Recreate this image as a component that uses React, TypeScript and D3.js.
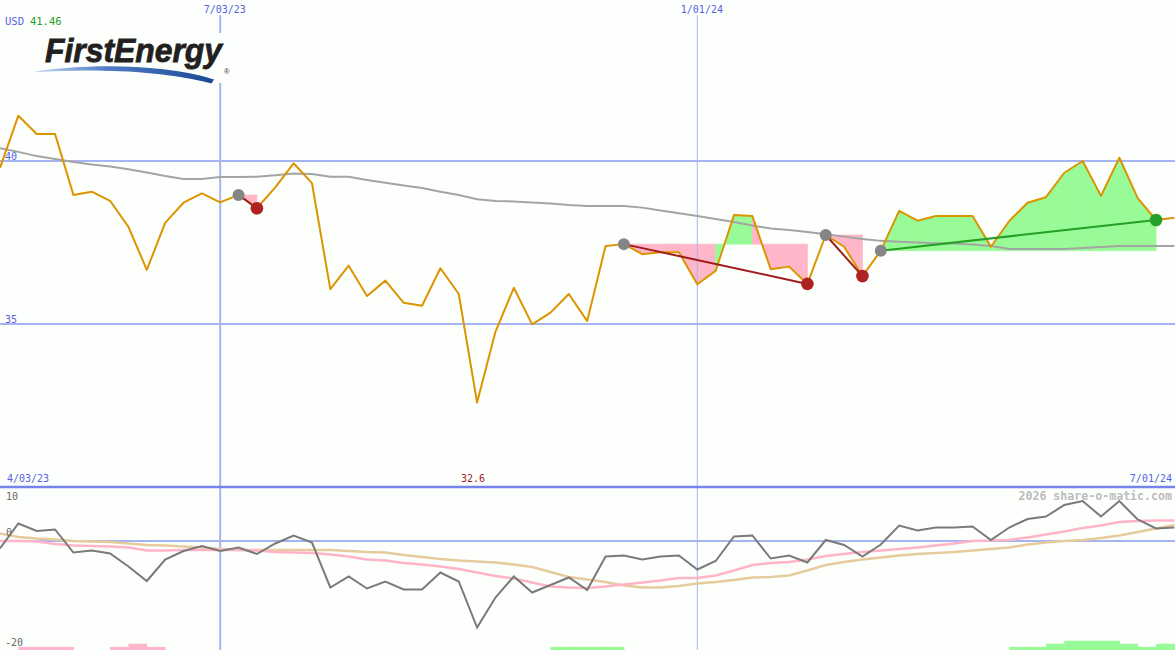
import React from 'react';
import * as d3 from 'd3';

const W = 1175;
const H = 650;

// weekly closes starting week of 2023-04-10
const startDate = new Date(2023, 3, 10);
const price = [39.79, 41.39, 40.83, 40.83, 38.96, 39.06, 38.78, 37.98, 36.66, 38.10,
  38.72, 39.01, 38.73, 38.96, 38.55, 39.19, 39.93, 39.32, 36.07, 36.79,
  35.86, 36.33, 35.65, 35.56, 36.71, 35.92, 32.59, 34.76, 36.11, 34.99,
  35.35, 35.92, 35.09, 37.39, 37.45, 37.14, 37.20, 37.20, 36.22, 36.63,
  38.34, 38.31, 36.68, 36.76, 36.23, 37.73, 37.37, 36.47, 37.25, 38.47,
  38.17, 38.31, 38.31, 38.31, 37.37, 38.16, 38.72, 38.89, 39.64, 40.00,
  38.93, 40.10, 38.86, 38.19, 38.26];
const priceMA = [40.39, 40.28, 40.15, 40.06, 39.97, 39.89, 39.83, 39.75, 39.65, 39.54,
  39.45, 39.45, 39.51, 39.51, 39.52, 39.56, 39.62, 39.60, 39.52, 39.52,
  39.42, 39.33, 39.25, 39.17, 39.06, 38.96, 38.83, 38.77, 38.76, 38.73,
  38.70, 38.65, 38.62, 38.62, 38.62, 38.57, 38.48, 38.40, 38.31, 38.22,
  38.13, 38.02, 37.93, 37.88, 37.82, 37.75, 37.68, 37.61, 37.55, 37.52,
  37.50, 37.48, 37.47, 37.44, 37.39, 37.30, 37.30, 37.30, 37.30, 37.33,
  37.36, 37.39, 37.39, 37.39, 37.39];
const osc = [-1.5, 3.5, 2.0, 2.3, -2.3, -1.9, -2.5, -5.1, -8.0, -3.7,
  -2.0, -1.0, -2.0, -1.3, -2.6, -0.5, 1.1, -0.3, -9.3, -7.1,
  -9.5, -8.1, -9.7, -9.7, -6.3, -8.1, -17.3, -11.3, -7.1, -10.3,
  -8.8, -7.3, -9.8, -3.1, -2.9, -3.7, -3.1, -2.9, -5.7, -4.0,
  0.9, 1.1, -3.5, -2.9, -4.3, 0.2, -0.8, -3.1, -0.7, 3.1,
  2.1, 2.7, 2.7, 2.9, 0.2, 2.7, 4.4, 4.9, 7.2, 8.0,
  4.9, 8.0, 4.3, 2.5, 2.7];
const oscFast = [0, 0, -0.1, -0.6, -0.9, -1.0, -1.1, -1.3, -1.9, -1.9,
  -1.8, -1.8, -1.8, -1.8, -1.9, -2.2, -2.3, -2.4, -2.7, -3.1,
  -3.7, -3.9, -4.4, -4.7, -5.1, -5.6, -6.3, -7.0, -7.5, -8.3,
  -9.1, -9.3, -9.4, -9.1, -8.7, -8.3, -7.9, -7.4, -7.4, -6.9,
  -5.9, -4.8, -4.4, -4.2, -3.7, -3.0, -2.6, -2.2, -1.9, -1.6,
  -1.3, -0.9, -0.5, 0, 0.1, 0.2, 0.7, 1.3, 1.9, 2.6,
  3.1, 3.8, 4.0, 4.1, 4.1];
const oscSlow = [1.5, 0.8, 0.5, 0.3, 0, -0.1, -0.2, -0.5, -0.8, -0.9,
  -1.1, -1.3, -1.6, -1.8, -1.8, -1.8, -1.8, -1.8, -1.8, -2.0,
  -2.2, -2.3, -2.8, -3.2, -3.6, -3.9, -4.1, -4.3, -4.7, -5.2,
  -6.2, -7.2, -7.7, -8.2, -8.9, -9.3, -9.3, -9.0, -8.5, -8.2,
  -7.8, -7.3, -7.2, -6.9, -5.9, -4.8, -4.2, -3.7, -3.3, -2.9,
  -2.6, -2.4, -2.2, -1.9, -1.6, -1.3, -0.7, -0.3, 0, 0.2,
  0.6, 1.1, 1.8, 2.5, 3.2];
// weekly strength bars (interval i .. i+1)
const histo = [0, -1, -1, -1, 0, 0, -1, -2, -1, 0,
  0, 0, 0, 0, 0, 0, 0, 0, 0, 0,
  0, 0, 0, 0, 0, 0, 0, 0, 0, 0,
  1, 1, 1, 1, 0, 0, 0, 0, 0, 0,
  0, 0, 0, 0, 0, 0, 0, 0, 0, 0,
  0, 0, 0, 0, 0, 1, 1, 2, 3, 3,
  3, 2, 1, 2];
const signals = [
  { start: 13, end: 14, kind: 'sell' },
  { start: 34, end: 44, kind: 'sell' },
  { start: 45, end: 47, kind: 'sell' },
  { start: 48, end: 63, kind: 'buy' },
];
const gridDates = [new Date(2023, 6, 3), new Date(2024, 0, 1)];
const gridLabels = ['7/03/23', '1/01/24'];
const priceTicks = [40, 35];
const oscTickLabels = ['10', '0', '-20'];
const rangeLabels = ['4/03/23', '7/01/24'];
const currency = 'USD';
const lastQuote = '41.46';
const lowLabel = '32.6';
const watermark = '2026 share-o-matic.com';

const BG = '#fdfffd';
const BLUE_TXT = '#5462e4';
const GRID = '#a6b4f2';
const MONO = '"DejaVu Sans Mono", "Liberation Mono", monospace';

export default function App() {
  const dates = price.map((_, i) => d3.timeWeek.offset(startDate, i));
  const x = d3.scaleTime().domain([dates[0], dates[dates.length - 1]]).range([0, 1174.4]);
  const xi = (i: number) => x(dates[i]);
  const yP = d3.scaleLinear().domain([35, 40]).range([324, 161]);
  const yO = d3.scaleLinear().domain([-20, 10]).range([641, 491]);

  const lineP = d3.line<number>().x((_, i) => xi(i)).y((d) => yP(d));
  const lineO = d3.line<number>().x((_, i) => xi(i)).y((d) => yO(d));

  const polys: { pts: string; color: string }[] = [];
  signals.forEach((s) => {
    const L = price[s.start];
    for (let i = s.start; i < s.end; i++) {
      const pts = [
        [xi(i), yP(L)],
        [xi(i), yP(price[i])],
        [xi(i + 1), yP(price[i + 1])],
        [xi(i + 1), yP(L)],
      ].map((p) => p.join(',')).join(' ');
      polys.push({ pts, color: price[i + 1] >= L ? '#98fb98' : '#ffb6c8' });
    }
  });

  const barUnit = 3.1;

  return (
    <svg width={W} height={H} style={{ position: 'absolute', left: 0, top: 0, display: 'block' }}>
      <defs>
        <linearGradient id="swoosh" x1="0" x2="1" y1="0" y2="0">
          <stop offset="0" stopColor="#c4d6f2" />
          <stop offset="0.4" stopColor="#4f7cc4" />
          <stop offset="1" stopColor="#1a4894" />
        </linearGradient>
      </defs>
      <rect x={0} y={0} width={W} height={H} fill={BG} />

      {/* signal fills */}
      {polys.map((p, k) => (
        <polygon key={k} points={p.pts} fill={p.color} stroke={p.color} strokeWidth={0.7} />
      ))}

      {/* grid */}
      {priceTicks.map((t) => (
        <line key={t} x1={0} x2={W} y1={yP(t)} y2={yP(t)} stroke={GRID} strokeWidth={2} />
      ))}
      <line x1={0} x2={W} y1={yO(0)} y2={yO(0)} stroke={GRID} strokeWidth={2} />
      {gridDates.map((d, k) => (
        <line key={k} x1={x(d)} x2={x(d)} y1={15} y2={H} stroke={GRID} strokeWidth={k === 0 ? 2 : 1} />
      ))}
      <line x1={0} x2={W} y1={487} y2={487} stroke="#7584ea" strokeWidth={2.5} />

      {/* price panel */}
      <path d={lineP(priceMA) || ''} fill="none" stroke="#a4a4a4" strokeWidth={2} />
      <path d={lineP(price) || ''} fill="none" stroke="#dc9400" strokeWidth={2} strokeLinejoin="round" />
      {signals.map((s, k) => (
        <line key={k} x1={xi(s.start)} y1={yP(price[s.start])} x2={xi(s.end)} y2={yP(price[s.end])}
          stroke={s.kind === 'buy' ? '#24a024' : '#a01c1c'} strokeWidth={2} />
      ))}
      {signals.map((s, k) => (
        <g key={k}>
          <circle cx={xi(s.start)} cy={yP(price[s.start])} r={6} fill="#858585" />
          <circle cx={xi(s.end)} cy={yP(price[s.end])} r={6.3} fill={s.kind === 'buy' ? '#26a026' : '#ae2222'} />
        </g>
      ))}

      {/* oscillator panel */}
      <path d={lineO(oscSlow) || ''} fill="none" stroke="#e6cc9c" strokeWidth={2.5} />
      <path d={lineO(oscFast) || ''} fill="none" stroke="#ffb4c8" strokeWidth={2.5} />
      <path d={lineO(osc) || ''} fill="none" stroke="#7a7a7a" strokeWidth={2} />
      {histo.map((v, i) => v === 0 ? null : (
        <rect key={i} x={xi(i)} width={xi(i + 1) - xi(i) + 0.5} y={H - Math.abs(v) * barUnit}
          height={Math.abs(v) * barUnit} fill={v > 0 ? '#98fb98' : '#ffb6c8'} />
      ))}

      {/* texts */}
      <g fontFamily={MONO} fontSize={10}>
        <text x={5} y={25} fill={BLUE_TXT} fontSize={10.5}>{currency}<tspan fill="#22a022" dx={6}>{lastQuote}</tspan></text>
        {gridDates.map((d, k) => (
          <text key={k} x={x(d) - 16.5} y={13} fill={BLUE_TXT}>{gridLabels[k]}</text>
        ))}
        {priceTicks.map((t) => (
          <text key={t} x={5} y={yP(t) - 1} fill={BLUE_TXT}>{String(t)}</text>
        ))}
        <text x={7} y={482} fill={BLUE_TXT}>{rangeLabels[0]}</text>
        <text x={1172} y={482} fill={BLUE_TXT} textAnchor="end">{rangeLabels[1]}</text>
        <text x={473} y={482} fill="#a21c1c" textAnchor="middle">{lowLabel}</text>
        <text x={6} y={500} fill="#6a6a6a">{oscTickLabels[0]}</text>
        <text x={6} y={536} fill="#6a6a6a">{oscTickLabels[1]}</text>
        <text x={5} y={646} fill="#6a6a6a">{oscTickLabels[2]}</text>
        <text x={1172} y={500} fill="#bcbcbc" textAnchor="end" fontSize={11.6} fontWeight="bold">{watermark}</text>
      </g>

      {/* logo */}
      <g>
        <rect x={36} y={33} width={200} height={50} fill={BG} />
        <text x={45} y={61.5} fontFamily='"Liberation Sans", Arial, sans-serif' fontWeight="bold" fontStyle="italic"
          fontSize={33} fill="#231f20" stroke="#231f20" strokeWidth={0.8} textLength={177} lengthAdjust="spacingAndGlyphs">FirstEnergy</text>
        <path d="M36,71.5 C80,64.5 160,62.5 214,79.5 L211.5,83.5 C160,69.5 85,68.5 36,72.3 Z" fill="url(#swoosh)" />
        <text x={224} y={73.5} fontFamily='"Liberation Sans", Arial, sans-serif' fontSize={7.5} fill="#333">®</text>
      </g>
    </svg>
  );
}
